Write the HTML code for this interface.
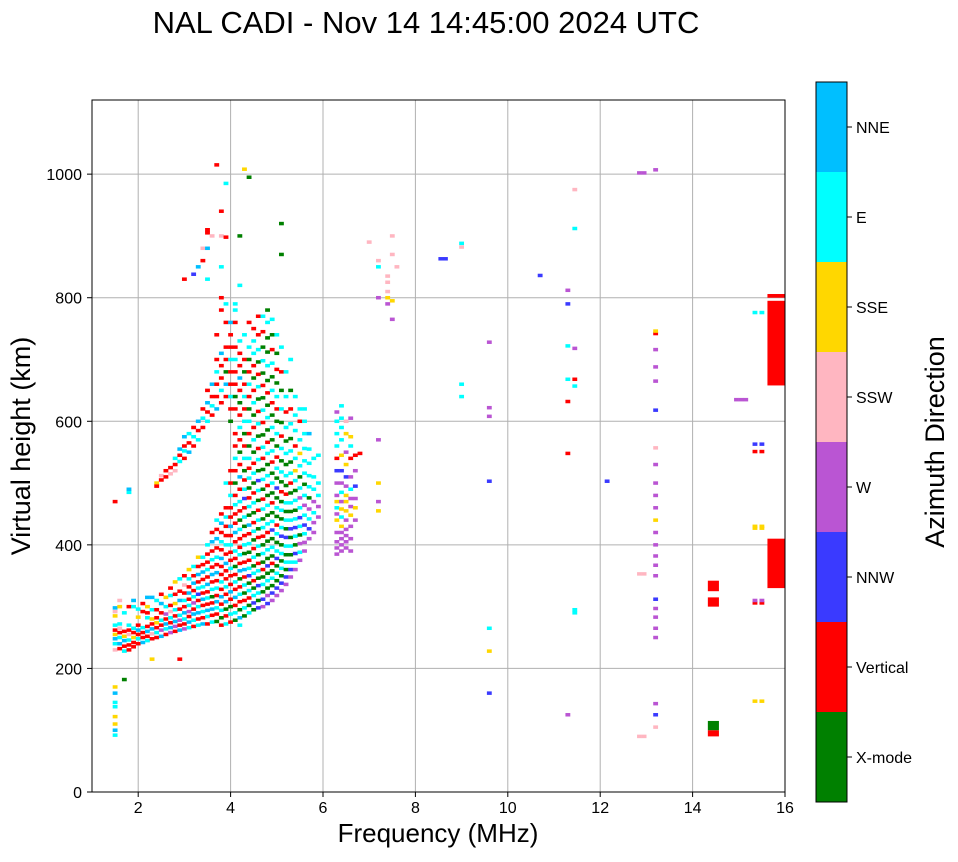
<!DOCTYPE html>
<html><head><meta charset="utf-8"><style>
body{margin:0;background:#fff;width:958px;height:857px;overflow:hidden;font-family:"Liberation Sans","DejaVu Sans",sans-serif}
svg text{font-family:"Liberation Sans","DejaVu Sans",sans-serif}
</style></head><body>
<svg id="chart" width="958" height="857" xmlns="http://www.w3.org/2000/svg">
<text x="426" y="33" font-size="31" text-anchor="middle">NAL CADI - Nov 14 14:45:00 2024 UTC</text>
<g id="grid"></g>
<g id="marks"></g>
<rect x="92" y="100" width="693" height="692" fill="none" stroke="#000" stroke-width="1"/>
<g id="axes"></g>
<text x="438" y="842" font-size="26" text-anchor="middle">Frequency (MHz)</text>
<text transform="translate(30,446) rotate(-90)" font-size="27" text-anchor="middle">Virtual height (km)</text>
<g id="cbar"></g>
<text transform="translate(944,442) rotate(-90)" font-size="27" text-anchor="middle">Azimuth Direction</text>
</svg>
<script>
const directions=["X-mode","Vertical","NNW","W","SSW","SSE","E","NNE"];
const dirColors=["#008000","#ff0000","#3a3aff","#ba55d3","#ffb6c1","#ffd700","#00ffff","#00bfff"];
const xTicks=[2,4,6,8,10,12,14,16];
const yTicks=[0,200,400,600,800,1000];
// columns: [frequency MHz, "height colorIndex, ..."]
const columns=[
[1.5,"92 6,100 7,110 5,122 5,138 6,145 6,160 7,170 5,230 4,240 6,248 7,255 5,262 1,270 6,285 5,292 4,298 7,470 1"],
[1.6,"232 1,240 7,250 6,258 1,265 4,272 6,300 5,310 4"],
[1.7,"228 6,236 1,245 7,252 5,260 1,182 0,290 6"],
[1.8,"230 1,238 1,246 6,255 4,262 1,270 6,300 1,485 6,490 7"],
[1.9,"235 1,242 1,250 5,258 1,265 6,310 7,300 6"],
[2.0,"240 1,248 6,255 1,262 7,270 1,283 5,296 6"],
[2.1,"242 7,250 1,258 1,266 6,292 1,305 1"],
[2.2,"245 6,252 1,260 7,268 1,282 6,290 1,300 5,315 7"],
[2.3,"248 1,256 4,264 7,272 1,280 5,295 6,315 7,215 5"],
[2.4,"250 1,258 6,266 1,274 5,282 1,295 1,310 6,500 5,495 1"],
[2.5,"252 7,262 3,270 1,278 6,290 1,305 7,320 1,505 1,512 4"],
[2.6,"255 1,264 6,272 7,280 1,288 3,300 6,315 5,510 1,520 1"],
[2.7,"258 3,266 7,274 1,282 6,292 4,302 1,318 6,330 1,515 4,525 1"],
[2.8,"260 1,268 3,276 7,285 1,295 6,305 5,320 1,340 5,530 1,540 6,520 4"],
[2.9,"262 7,270 1,278 3,286 6,296 1,310 7,325 1,345 6,215 1,535 6,545 1,555 7"],
[3.0,"264 3,272 1,280 6,290 7,300 1,310 6,322 1,335 4,350 1,540 1,552 6,560 1,575 7,830 1"],
[3.1,"266 6,275 7,284 1,292 3,302 6,312 1,322 7,332 1,345 6,360 5,550 7,565 1,580 6"],
[3.2,"268 1,278 6,288 7,296 1,306 3,316 6,326 1,338 7,350 1,365 6,560 1,575 6,590 1,838 2"],
[3.3,"270 6,280 1,290 7,300 6,310 1,320 2,330 6,340 1,352 7,365 1,380 5,570 6,585 1,600 7,850 7"],
[3.4,"272 7,282 1,292 6,302 1,312 7,322 1,332 6,344 1,356 7,368 1,380 6,590 1,605 6,620 1,860 1,880 4"],
[3.5,"272 1,284 6,294 7,304 1,314 6,324 1,336 7,348 1,360 6,372 1,385 1,400 6,600 6,615 1,630 7,650 1,880 7,905 1,910 1,830 6"],
[3.6,"275 6,286 1,296 7,306 1,316 0,328 6,340 1,352 7,364 1,376 6,390 1,405 7,420 1,610 1,625 6,640 1,660 7,900 4"],
[3.7,"276 0,288 1,298 6,308 7,318 1,330 6,342 1,355 7,368 1,380 6,395 1,410 7,425 1,440 6,620 7,640 1,660 1,680 6,700 1,740 1,1015 1"],
[3.8,"270 1,282 0,294 6,304 1,316 7,328 1,340 6,352 1,365 1,378 7,392 1,405 6,420 1,435 7,450 1,630 1,650 6,670 1,690 1,710 7,780 1,800 1,850 6,900 4,940 1"],
[3.9,"272 6,285 1,296 0,308 7,320 1,332 6,345 1,358 1,370 7,385 1,400 6,415 1,430 1,445 6,460 1,500 6,640 1,660 7,680 0,700 1,720 1,760 1,790 6,898 1,985 6"],
[4.0,"275 1,288 6,300 0,312 1,324 7,336 1,350 1,362 6,375 1,388 1,400 6,415 1,430 7,445 1,460 1,480 6,500 1,520 1,600 0,620 1,640 6,660 1,680 1,700 6,720 1,740 1,760 7"],
[4.1,"278 0,290 6,302 1,315 7,328 1,340 6,352 1,365 0,378 1,390 6,405 1,420 7,435 1,450 1,465 6,480 1,500 0,520 1,540 6,560 1,580 1,620 1,640 0,660 1,680 1,700 6,720 1,760 1,780 6,790 6"],
[4.2,"270 6,282 7,295 0,308 1,320 6,332 1,345 0,358 7,370 1,384 6,396 1,410 1,425 6,440 0,455 1,470 6,490 1,510 7,530 1,550 0,570 1,590 6,610 1,630 0,650 1,670 7,690 1,710 1,730 6,820 6,900 0"],
[4.3,"285 0,298 6,310 1,322 0,335 6,348 1,360 7,372 1,386 0,400 6,415 1,430 0,445 6,460 1,475 2,490 6,505 1,520 0,540 6,560 1,580 0,600 6,620 1,640 6,660 1,680 0,700 1,740 6,1008 5"],
[4.4,"290 6,302 0,314 1,326 6,338 0,350 2,362 6,375 1,388 0,402 6,418 1,432 7,448 0,462 6,476 1,492 0,508 6,524 1,540 6,560 0,580 1,600 6,620 0,640 1,660 6,680 1,700 0,720 6,760 1,995 0"],
[4.5,"295 0,306 2,318 6,330 0,342 1,354 6,366 0,380 6,394 1,408 0,422 6,436 1,452 0,468 6,484 1,500 0,516 6,532 1,550 0,570 6,590 1,610 0,630 6,650 1,670 0,690 1,710 6,730 6,750 1"],
[4.6,"298 2,310 0,322 6,334 2,346 0,358 6,370 1,384 0,398 6,412 1,426 0,440 6,456 1,472 0,488 6,504 2,520 0,538 6,556 1,576 0,596 6,616 1,636 0,656 6,676 1,696 0,716 6,740 1,770 1"],
[4.7,"300 3,312 2,324 0,336 6,348 0,360 1,372 0,386 6,400 0,414 1,428 6,442 0,458 6,474 1,490 0,506 6,522 0,540 1,558 6,578 0,598 1,618 6,638 0,658 1,678 0,698 6,720 0,745 1,770 6"],
[4.8,"305 2,318 3,330 0,342 6,354 0,366 2,378 0,392 6,406 0,420 1,434 6,448 0,464 6,480 0,496 1,512 6,530 0,548 6,566 1,586 0,606 6,626 0,646 1,666 0,690 6,712 0,735 0,760 6,780 0"],
[4.9,"310 3,322 2,334 0,346 6,358 0,370 1,382 0,396 6,410 0,424 2,438 6,452 0,468 1,484 0,500 6,516 0,534 1,552 6,570 0,590 6,610 0,630 1,650 6,672 0,694 6,716 1,740 0,765 6"],
[5.0,"318 3,330 2,342 0,354 6,366 0,378 2,390 6,404 0,418 6,432 1,446 0,460 6,476 0,492 2,508 0,524 6,542 1,560 0,580 6,600 0,620 1,640 6,662 0,684 1,710 0,740 6"],
[5.1,"326 3,338 2,350 0,362 6,374 0,386 6,400 0,414 2,428 6,442 0,456 6,470 0,486 1,502 0,518 6,536 0,556 6,576 1,598 0,620 6,650 0,680 1,720 6,870 0,920 0"],
[5.2,"336 3,348 2,360 0,372 6,384 0,398 6,412 2,426 0,440 6,454 0,468 6,482 1,496 0,512 6,530 0,548 6,568 0,590 6,615 1,640 6,680 6"],
[5.3,"348 3,360 2,372 6,384 0,398 6,412 0,426 2,440 6,454 0,468 6,484 0,500 1,516 6,534 0,552 6,572 0,596 6,620 1,650 0,700 6"],
[5.4,"360 3,372 6,386 2,400 0,414 6,428 2,442 6,456 0,472 6,488 0,504 6,520 5,540 6,560 1,585 6,610 6,640 6"],
[5.5,"375 3,388 6,402 3,416 0,430 6,444 2,460 6,476 3,492 6,510 0,528 6,548 5,570 6,600 1,620 6"],
[5.6,"390 3,404 3,418 6,432 2,448 6,464 3,480 6,498 0,516 6,536 6,556 6,580 6,600 6,620 6"],
[5.7,"410 3,426 2,442 6,458 3,476 0,494 6,512 6,532 6,555 6,580 7"],
[5.8,"420 3,436 3,452 6,470 3,490 6,510 6,540 6"],
[5.9,"445 3,462 3,480 6,500 6,545 6"],
[6.3,"385 3,395 3,405 3,420 3,440 5,450 3,460 6,470 5,480 3,500 3,520 2,540 1,560 6,580 6,600 6,615 3"],
[6.4,"390 3,400 3,410 3,420 3,430 5,445 6,458 5,470 3,485 6,500 3,520 2,545 5,570 6,590 6,605 6,625 6"],
[6.5,"395 3,405 3,415 3,425 3,440 3,455 5,470 5,480 5,495 3,510 2,530 5,550 3,580 5,600 4"],
[6.6,"390 3,410 3,430 3,448 5,462 3,475 3,490 6,510 3,540 1,560 6,575 5,605 3"],
[6.7,"440 3,460 5,475 3,495 2,520 3,545 1"],
[6.8,"548 1"],[7.0,"890 4"],
[7.2,"455 5,470 3,500 5,570 3,800 3,850 6,860 4"],
[7.4,"790 3,800 5,810 4,825 4,835 4"],
[7.5,"795 5,765 3,900 4,870 4"],[7.6,"850 4"],
[8.55,"863 2"],[8.65,"863 2"],
[9.0,"640 6,660 6,882 4,888 6"],
[9.6,"160 2,228 5,265 6,503 2,608 3,622 3,728 3"],
[10.7,"836 2"],
[11.3,"125 3,548 1,632 1,668 6,722 6,790 2,812 3"],
[11.45,"290 6,295 6,657 6,668 1,718 3,912 6,975 4"],
[12.15,"503 2"],
[12.85,"90 4,353 4,1002 3"],[12.95,"90 4,353 4,1002 3"],
[13.2,"105 4,125 2,143 3,250 3,265 3,283 3,297 3,312 2,350 3,367 3,382 3,400 3,420 3,440 5,460 3,480 3,500 3,530 3,557 4,618 2,665 3,688 3,716 3,742 1,746 5,1007 3"],
[14.95,"635 3"],[15.05,"635 3"],[15.15,"635 3"],
[15.35,"147 5,306 1,310 3,427 5,430 5,551 1,563 2,776 6"],
[15.5,"147 5,306 1,310 3,427 5,430 5,551 1,563 2,776 6"]
];
// blocks: [f0, f1, h0, h1, colorIndex]
const blocks=[[14.33,14.57,90,100,1],[14.33,14.57,100,115,0],[14.33,14.57,300,315,1],[14.33,14.57,325,342,1],[15.62,16,330,410,1],[15.62,16,658,795,1],[15.62,16,800,806,1]];

const X0=92,X1=785,Y0=792,Y1=100;
const xs=f=>X0+(f-1)/15*(X1-X0);
const ys=h=>Y0-h/1120*(Y0-Y1);
const NS="http://www.w3.org/2000/svg";
function mk(tag,attrs,parent){const e=document.createElementNS(NS,tag);for(const k in attrs)e.setAttribute(k,attrs[k]);parent.appendChild(e);return e;}
const grid=document.getElementById('grid'),axes=document.getElementById('axes'),marks=document.getElementById('marks'),cbar=document.getElementById('cbar');
xTicks.forEach(t=>{const x=xs(t);
 const l=mk('line',{x1:x,x2:x,y1:Y1,y2:Y0,stroke:'#b0b0b0','stroke-width':1},grid);
 
 mk('line',{x1:x,x2:x,y1:Y0,y2:Y0+5,stroke:'#000'},axes);
 const tx=mk('text',{x:x,y:Y0+21,'font-size':16,'text-anchor':'middle'},axes);tx.textContent=t;
 });
yTicks.forEach(t=>{const y=ys(t);
 const l=mk('line',{x1:X0,x2:X1,y1:y,y2:y,stroke:'#b0b0b0','stroke-width':1},grid);
 
 mk('line',{x1:X0-5,x2:X0,y1:y,y2:y,stroke:'#000'},axes);
 const tx=mk('text',{x:X0-10,y:y+6,'font-size':16,'text-anchor':'end'},axes);tx.textContent=t;
 });
const w=xs(1.105)-xs(1);
columns.forEach(([f,s])=>{s.split(',').forEach(p=>{const [h,c]=p.trim().split(' ').map(Number);
 const r=mk('rect',{x:xs(f)-w/2,y:ys(h)-1.75,width:w,height:3.5,fill:dirColors[c]},marks);
 });});
blocks.forEach(([f0,f1,h0,h1,c])=>{
 const r=mk('rect',{x:xs(f0),y:ys(h1),width:xs(f1)-xs(f0),height:ys(h0)-ys(h1),fill:dirColors[c]},marks);
 });
const CB0=802,CB1=82,bh=(CB0-CB1)/directions.length;
directions.forEach((d,i)=>{const y=CB0-(i+1)*bh;
 const r=mk('rect',{x:816,y:y,width:31,height:bh,fill:dirColors[i]},cbar);
 
 mk('line',{x1:847,x2:852,y1:y+bh/2,y2:y+bh/2,stroke:'#000'},cbar);
 const tx=mk('text',{x:856,y:y+bh/2+6,'font-size':16},cbar);tx.textContent=d;
 });
mk('rect',{x:816,y:CB1,width:31,height:CB0-CB1,fill:'none',stroke:'#000'},cbar);
</script>
</body></html>
